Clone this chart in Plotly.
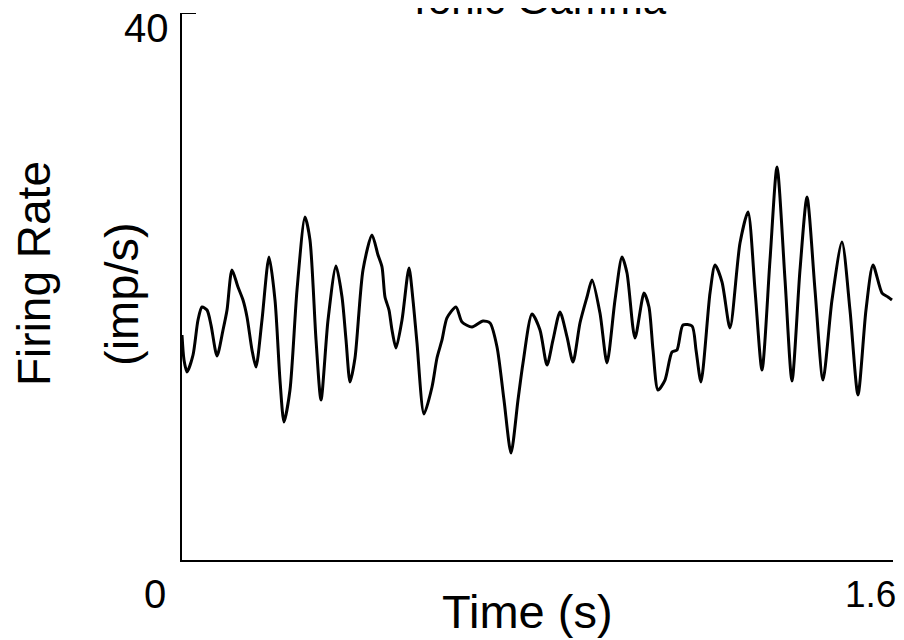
import plotly.graph_objects as go

# Time (s) and firing rate (imp/s)
time_s = [0.0, 0.0045, 0.0113, 0.0248, 0.036, 0.045, 0.0563, 0.0653, 0.0788, 0.0923,
          0.1013, 0.1125, 0.126, 0.1373, 0.1463, 0.1575, 0.1665, 0.18, 0.1958, 0.2093,
          0.2205, 0.2295, 0.243, 0.2588, 0.2768, 0.288, 0.3016, 0.3128, 0.3286, 0.3466,
          0.3601, 0.3691, 0.3781, 0.3893, 0.4073, 0.4276, 0.4411, 0.4501, 0.4568, 0.4658,
          0.4726, 0.4816, 0.4951, 0.5108, 0.5198, 0.5288, 0.5446, 0.5626, 0.5738, 0.5851,
          0.5963, 0.6166, 0.6301, 0.6526, 0.6773, 0.6931, 0.7089, 0.7246, 0.7404, 0.7561,
          0.7674, 0.7876, 0.8056, 0.8214, 0.8349, 0.8506, 0.8664, 0.8799, 0.8956, 0.9114,
          0.9227, 0.9406, 0.9564, 0.9744, 0.9902, 1.0014, 1.0194, 1.0397, 1.0509, 1.0599,
          1.0712, 1.0869, 1.1027, 1.1139, 1.1274, 1.1477, 1.1567, 1.1679, 1.1882, 1.1995,
          1.2152, 1.2332, 1.2557, 1.2737, 1.2895, 1.3052, 1.3232, 1.339, 1.357, 1.3727,
          1.3907, 1.4065, 1.4245, 1.4425, 1.4627, 1.4852, 1.5032, 1.5212, 1.5392, 1.555,
          1.5753, 1.5887, 1.5977]
rate = [16.45, 14.63, 13.75, 14.99, 17.55, 18.50, 18.28, 17.18, 14.92, 16.82,
        18.28, 21.21, 19.96, 19.01, 17.77, 15.36, 14.11, 17.55, 22.16, 19.01,
        13.16, 10.09, 12.43, 19.74, 25.08, 23.40, 16.09, 11.70, 17.55, 21.50,
        19.23, 16.09, 13.02, 14.77, 21.21, 23.77, 22.30, 21.43, 19.23, 18.28,
        16.82, 15.50, 17.55, 21.35, 19.01, 15.87, 10.68, 12.65, 14.77, 16.09,
        17.70, 18.50, 17.40, 17.04, 17.48, 17.33, 15.58, 11.70, 7.82, 11.70,
        14.41, 17.99, 16.82, 14.26, 16.09, 18.14, 16.31, 14.48, 17.33, 19.23,
        20.48, 18.06, 14.41, 19.01, 22.16, 20.99, 16.23, 19.52, 18.50, 15.36,
        12.43, 13.16, 15.21, 15.36, 17.18, 17.11, 15.36, 13.02, 19.52, 21.57,
        20.33, 16.97, 23.18, 25.45, 19.74, 13.89, 21.94, 28.74, 20.48, 13.09,
        21.21, 26.54, 19.74, 13.16, 19.01, 23.25, 18.28, 12.07, 18.28, 21.57,
        19.52, 19.23, 19.01]

x_range = [0, 1.6]
y_range = [0, 40]
title_text = "Tonic Gamma"
x_title = "Time (s)"
y_title = "Firing Rate"
y_units = "(imp/s)"
tick_labels = {"y_top": "40", "origin": "0", "x_end": "1.6"}

FONT = "Liberation Sans"

# The page body adds an 8px margin; size the figure to the remaining viewport.
OFF = 8
W, H = 904 - OFF, 640 - OFF
left_px, right_px, top_px, bottom_px = 182, 893, 13, 560   # plot area in window pixels
L = left_px - OFF
R = (904 - right_px)
T = top_px - OFF
B = 640 - bottom_px
pw, ph = W - L - R, H - T - B


def px(xp):
    return (xp - OFF - L) / pw


def py(yp):
    return (H - B - (yp - OFF)) / ph


fig = go.Figure()
fig.add_trace(go.Scatter(
    x=time_s, y=rate, mode="lines",
    line=dict(color="black", width=3, shape="spline", smoothing=0.7),
    showlegend=False, hoverinfo="skip",
))

ann = []
ann.append(dict(text=title_text, x=px(405), y=py(0), xanchor="left", yanchor="middle",
                font=dict(size=42, color="black", family=FONT)))
ann.append(dict(text=x_title, x=px(527), y=py(611), xanchor="center", yanchor="middle",
                font=dict(size=47, color="black", family=FONT)))
ann.append(dict(text=y_title, x=px(34), y=py(274), xanchor="center", yanchor="middle",
                textangle=-90, font=dict(size=46, color="black", family=FONT)))
ann.append(dict(text=y_units, x=px(121), y=py(294), xanchor="center", yanchor="middle",
                textangle=-90, font=dict(size=47, color="black", family=FONT)))
ann.append(dict(text=tick_labels["y_top"], x=px(146), y=py(28), xanchor="center", yanchor="middle",
                font=dict(size=40, color="black", family=FONT)))
ann.append(dict(text=tick_labels["origin"], x=px(155), y=py(594), xanchor="center", yanchor="middle",
                font=dict(size=40, color="black", family=FONT)))
ann.append(dict(text=tick_labels["x_end"], x=px(870), y=py(594), xanchor="center", yanchor="middle",
                font=dict(size=37, color="black", family=FONT)))
for a in ann:
    a.update(xref="paper", yref="paper", showarrow=False)

fig.update_layout(
    width=W, height=H,
    margin=dict(l=L, r=R, t=T, b=B),
    paper_bgcolor="white", plot_bgcolor="white",
    annotations=ann,
    shapes=[dict(type="line", xref="x", yref="y", x0=0, x1=0.0315, y0=40, y1=40,
                 line=dict(color="black", width=2))],
    xaxis=dict(range=x_range, showline=True, linecolor="black", linewidth=2,
               showgrid=False, zeroline=False, ticks="", showticklabels=False),
    yaxis=dict(range=y_range, showline=True, linecolor="black", linewidth=2,
               showgrid=False, zeroline=False, ticks="", showticklabels=False),
)

fig.write_html("out.html")
